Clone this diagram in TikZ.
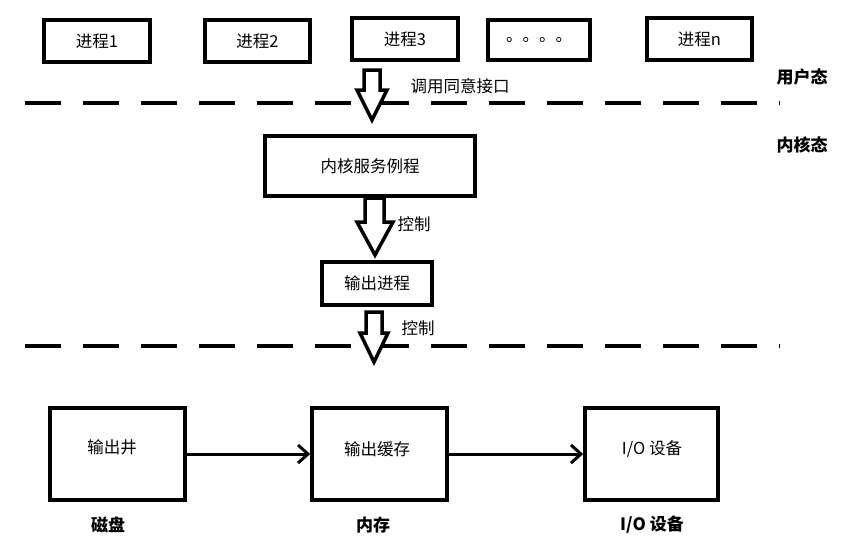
\documentclass[tikz,border=0pt]{standalone}
\usepackage{fontspec}
\setmainfont{Noto Sans CJK SC}
\usetikzlibrary{arrows.meta}
\begin{document}
\begin{tikzpicture}[x=1pt,y=-1pt,
  box/.style={draw,line width=3.5pt,inner sep=0pt,font=\fontsize{16.5}{18}\selectfont},
  lbl/.style={font=\fontsize{16.5}{18}\selectfont},
  blbl/.style={font=\bfseries\fontsize{17}{19}\selectfont},
  dsh/.style={line width=4pt,dash pattern=on 36pt off 22pt},
  blk/.style={draw,line width=3.5pt,fill=white,line join=miter},
  conn/.style={line width=3pt,-{Straight Barb[length=10pt,width=18pt,line width=3pt]}}]
\useasboundingbox (0,0) rectangle (846,552);
\def\bx#1#2#3#4#5#6{\node[box,minimum width=#4-#2,minimum height=#5-#3] (#1) at ({(#2+#4)/2},{(#3+#5)/2}) {#6};}
\bx{p1}{44}{20}{150}{62}{进程1}
\bx{p2}{205}{20}{310}{62}{进程2}
\bx{p3}{352}{18}{458}{60}{进程3}
\bx{pd}{488}{20}{590}{60}{。。。。}
\bx{pn}{647}{18}{752}{60}{进程n}
\bx{ks}{265}{136}{475}{196}{内核服务例程}
\bx{op}{322}{262}{432}{305}{输出进程}
\node[box,minimum width=135,minimum height=92] (w) at (117.5,454) {};
\node[box,minimum width=135,minimum height=92] (c) at (379.5,454) {};
\node[box,minimum width=133,minimum height=92] (io) at (651.5,454) {};
\node[lbl] (wt) at (112,447) {输出井};
\node[lbl] (ct) at (377,449) {输出缓存};
\node[lbl] (iot) at (652,449) {I/O 设备};
\draw[dsh] (25,103) -- (780,103);
\draw[dsh] (25,346) -- (780,346);
\draw[blk] (364,70) -- (380,70) -- (380,90) -- (387,90) -- (372,120) -- (357,90) -- (364,90) -- cycle;
\draw[blk] (365,198) -- (384,198) -- (384,222) -- (393,222) -- (375,255) -- (357,222) -- (365,222) -- cycle;
\draw[blk] (366,312) -- (382,312) -- (382,333) -- (388,333) -- (374,362) -- (360,333) -- (366,333) -- cycle;
\node[lbl] (t1) at (460,86) {调用同意接口};
\node[lbl] (t2) at (414,224) {控制};
\node[lbl] (t3) at (418,328) {控制};
\node[blbl] (u) at (802,77) {用户态};
\node[blbl] (k) at (802,145) {内核态};
\node[blbl] (d1) at (108,525) {磁盘};
\node[blbl] (d2) at (373,525) {内存};
\node[blbl] (d3) at (652,525) {I/O 设备};
\draw[conn] (w.east) -- (c.west);
\draw[conn] (c.east) -- (io.west);
\end{tikzpicture}
\end{document}
